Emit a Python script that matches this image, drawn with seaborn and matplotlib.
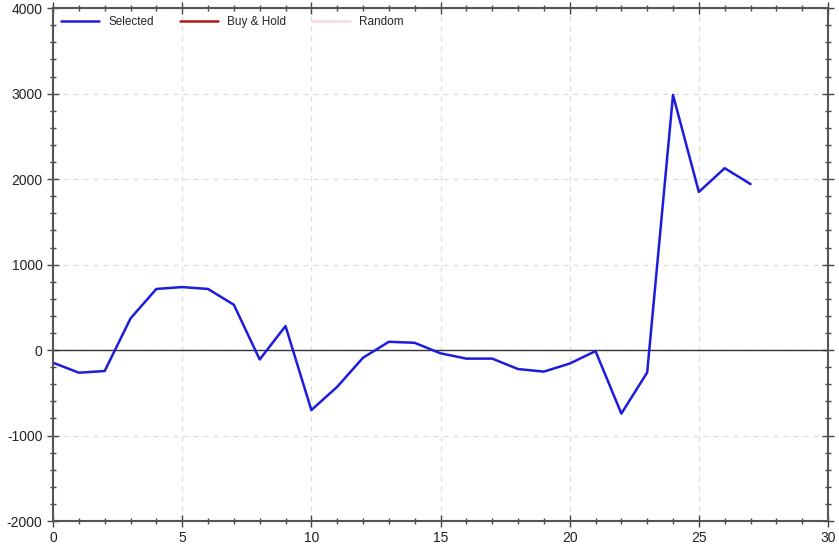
import numpy as np
import pandas as pd
import seaborn as sns
import matplotlib.pyplot as plt
from matplotlib.ticker import MultipleLocator

# equity curve
trade_no = list(range(28))
selected = [-148, -265, -245, 370, 715, 737, 715, 530, -110, 281,
            -702, -430, -90, 97, 85, -38, -100, -100, -222, -252,
            -158, -12, -743, -262, 2985, 1850, 2128, 1942]
legend_names = ['Selected', 'Buy & Hold', 'Random']
line_colors = ['#1c1cdc', '#b01818', '#f8d8dc']

df = pd.DataFrame({'trade': trade_no, 'pnl': selected})

sns.set_style('white')
plt.rcParams['font.family'] = ['Liberation Sans', 'DejaVu Sans']
plt.rcParams['axes.unicode_minus'] = False

fig = plt.figure(figsize=(8.39, 5.45), dpi=100)
ax = fig.add_axes([0.0632, 0.044, 0.9237, 0.941])

sns.lineplot(data=df, x='trade', y='pnl', color=line_colors[0], linewidth=1.8,
             label=legend_names[0], ax=ax)
ax.plot([], [], color=line_colors[1], linewidth=1.8, label=legend_names[1])
ax.plot([], [], color=line_colors[2], linewidth=1.8, label=legend_names[2])

ax.axhline(0, color='#333333', linewidth=1.0, zorder=1)

ax.set_xlim(0, 30)
ax.set_ylim(-2000, 4000)
ax.xaxis.set_major_locator(MultipleLocator(5))
ax.xaxis.set_minor_locator(MultipleLocator(1))
ax.yaxis.set_major_locator(MultipleLocator(1000))
ax.yaxis.set_minor_locator(MultipleLocator(200))
ax.grid(True, which='major', linestyle=(0, (4, 4)), color='#dcdcdc', linewidth=0.9)
ax.tick_params(which='both', direction='inout', top=True, right=True,
               bottom=True, left=True, colors='#444444', labelcolor='#222222',
               labelsize=10)
ax.tick_params(which='major', length=8, width=1.0)
ax.tick_params(which='minor', length=5, width=1.0)
for s in ax.spines.values():
    s.set_color('#555555')
    s.set_linewidth(1.5)
ax.set_xlabel('')
ax.set_ylabel('')

ax.legend(loc='upper left', ncol=3, frameon=False, fontsize=8.5,
          handlelength=3.2, columnspacing=2.2, borderaxespad=0.3,
          bbox_to_anchor=(0.0, 1.0))

fig.savefig('out.png', dpi=100)
